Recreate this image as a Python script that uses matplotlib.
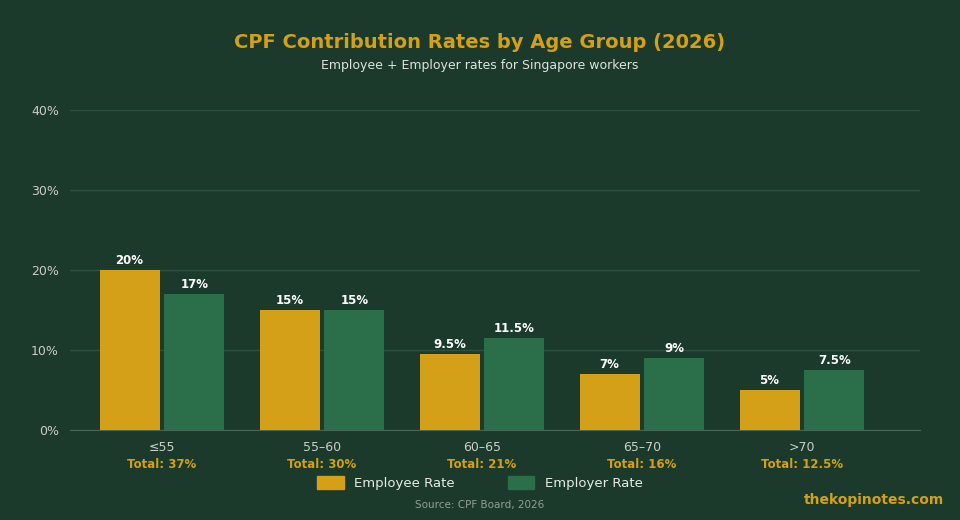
import matplotlib
matplotlib.use("Agg")
import matplotlib.pyplot as plt
from matplotlib.patches import Patch

categories = ["≤55", "55–60", "60–65", "65–70", ">70"]
employee = [20, 15, 9.5, 7, 5]
employer = [17, 15, 11.5, 9, 7.5]
totals = ["37%", "30%", "21%", "16%", "12.5%"]

bg = "#1b3a2b"
gold = "#d4a017"
green = "#2b6e4a"

fig = plt.figure(figsize=(9.6, 5.2), dpi=100, facecolor=bg)
ax = fig.add_axes([70/960, 1-430/520, 850/960, 320/520], facecolor=bg)

x = range(len(categories))
w = 0.375
off = 0.203
for i in x:
    ax.bar(i - off, employee[i], w, color=gold, zorder=3)
    ax.bar(i + off, employer[i], w, color=green, zorder=3)
    for xv, v in ((i - off, employee[i]), (i + off, employer[i])):
        ax.text(xv, v + 0.4, f"{v:g}%", ha="center", va="bottom", color="white",
                fontsize=8.5, fontweight="bold")

ax.set_xlim(-0.575, 4.7375)
ax.set_ylim(0, 40)
ax.set_yticks([0, 10, 20, 30, 40])
ax.set_yticklabels([f"{t}%" for t in [0, 10, 20, 30, 40]])
ax.grid(axis="y", color="#2e5240", linewidth=1, zorder=0)
ax.set_xticks(list(x))
ax.set_xticklabels(categories)
ax.tick_params(colors="#c9cfc6", labelsize=9, length=0, pad=8)
ax.tick_params(axis="x", pad=8)
for s in ["top", "right", "left"]:
    ax.spines[s].set_visible(False)
ax.spines["bottom"].set_color("#4a6656")

for i in x:
    ax.text(i, -4.3, f"Total: {totals[i]}", ha="center", va="center", color=gold,
            fontsize=8.5, fontweight="bold")

fig.text(0.5, 1-43/520, "CPF Contribution Rates by Age Group (2026)", ha="center", va="center",
         color=gold, fontsize=14, fontweight="bold")
fig.text(0.5, 1-66/520, "Employee + Employer rates for Singapore workers", ha="center", va="center",
         color="#dde3da", fontsize=9)

fig.legend(handles=[Patch(color=gold, label="Employee Rate"), Patch(color=green, label="Employer Rate")],
           loc="center", bbox_to_anchor=(0.5, 1-483/520), ncol=2, frameon=False,
           labelcolor="#e6ebe3", fontsize=9.5, handlelength=2, handleheight=1.1, columnspacing=4)
fig.text(0.5, 1-505/520, "Source: CPF Board, 2026", ha="center", va="center", color="#8fa196", fontsize=7.5)
fig.text(944/960, 1-500/520, "thekopinotes.com", ha="right", va="center", color=gold,
         fontsize=10, fontweight="bold")

fig.savefig("out.png", dpi=100, facecolor=bg)
